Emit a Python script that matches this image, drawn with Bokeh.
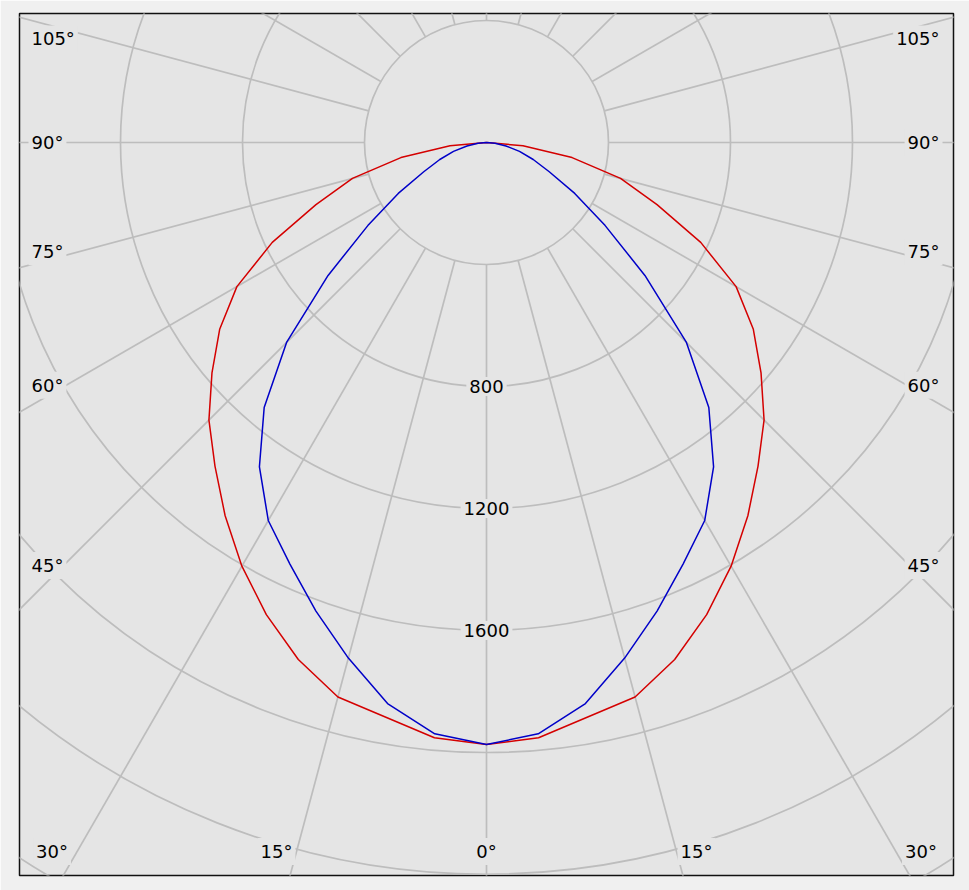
import numpy as np
from bokeh.plotting import figure
from bokeh.models import Range1d, Label, BoxAnnotation
from bokeh.embed import file_html
from bokeh.resources import INLINE

# ---------------- data ----------------
# luminous intensity (cd) against angle from nadir (deg)
angles_c0 = [0, 5, 15, 20, 25, 30, 35, 40, 45, 50, 55, 60, 65, 70, 75, 80, 85, 90]
intensity_c0 = [1974, 1959, 1882, 1804, 1708, 1604, 1494, 1385, 1287, 1175,
                1068, 945, 775, 595, 455, 285, 120, 0]
angles_c90 = [0, 5, 10, 15, 20, 25, 30, 35, 40, 45, 50, 55, 60, 65, 70, 75, 80, 85, 90]
intensity_c90 = [1974, 1946, 1868, 1750, 1635, 1525, 1431, 1298, 1134, 927,
                 678, 475, 334, 227, 163, 112, 65, 28, 0]

ring_values = [400, 800, 1200, 1600, 2000, 2400, 2800]
ring_label_values = [800, 1200, 1600]
spoke_angles = list(range(0, 360, 15))
side_label_angles = [105, 90, 75, 60, 45]
bottom_label_angles = [30, 15, 0]

# ---------------- layout constants ----------------
S = 122.0 / 400.0             # pixels per candela
FRAME_W, FRAME_H = 934, 862
CX, CY = 467, 129             # centre of the diagram inside the frame (px)
BG = "#e5e5e5"
GRID = "#bdbdbd"
FONT = "DejaVu Sans"
FSIZE = "18px"

p = figure(width=969, height=890, output_backend="svg", toolbar_location=None,
           x_axis_type=None, y_axis_type=None,
           x_range=Range1d(-CX / S, (FRAME_W - CX) / S),
           y_range=Range1d(-(FRAME_H - CY) / S, CY / S),
           min_border_left=19, min_border_right=16, min_border_top=13, min_border_bottom=15)
p.title.visible = False
p.grid.visible = False
p.background_fill_color = BG
p.border_fill_color = "#f0f0f0"
p.outline_line_color = "#111111"
p.outline_line_width = 1.5

# light panel border around the chart
p.add_layout(BoxAnnotation(left=12, right=956, top=5, bottom=885,
                           left_units="canvas", right_units="canvas",
                           top_units="canvas", bottom_units="canvas",
                           fill_color=None, fill_alpha=0, line_color="#d2d2d2",
                           line_width=1, level="underlay"))


def polar(r, deg):
    t = np.radians(np.asarray(deg, dtype=float))
    r = np.asarray(r, dtype=float)
    return r * np.sin(t), -r * np.cos(t)


# spokes from the 400 ring outwards
xs, ys = [], []
for a in spoke_angles:
    x0, y0 = polar(ring_values[0], a)
    x1, y1 = polar(6000, a)
    xs.append([float(x0), float(x1)])
    ys.append([float(y0), float(y1)])
p.multi_line(xs, ys, line_color=GRID, line_width=1.7)

# rings
p.circle(x=[0] * len(ring_values), y=[0] * len(ring_values), radius=ring_values,
         fill_color=None, line_color=GRID, line_width=1.7)


def curve(angles, vals):
    a = np.asarray(angles, dtype=float)
    v = np.asarray(vals, dtype=float)
    aa = np.concatenate([-a[::-1], a[1:]])
    vv = np.concatenate([v[::-1], v[1:]])
    return polar(vv, aa)


x0, y0 = curve(angles_c0, intensity_c0)
p.line(x0, y0, line_color="#d40000", line_width=1.5)
x90, y90 = curve(angles_c90, intensity_c90)
p.line(x90, y90, line_color="#0000c8", line_width=1.5)


def add_label(x, y, text, align):
    p.add_layout(Label(x=x, y=y, text=text, text_font=FONT, text_font_size=FSIZE,
                       text_color="black", text_align=align, text_baseline="middle",
                       background_fill_color=BG, padding=3))


# intensity labels on the 0 deg axis
for v in ring_label_values:
    add_label(0, -v, str(v), "center")

# angle labels along the frame edges
side_dx = 438 / S
for a in side_label_angles:
    nud = a + (1.0 if a < 90 else (-1.7 if a > 90 else 0.0))
    t = np.radians(nud)
    y = -side_dx / np.tan(t)
    add_label(-458 / S, float(y), f"{a}°", "left")
    add_label(456 / S, float(y), f"{a}°", "right")

bottom_dy = 709 / S
for a in bottom_label_angles:
    nud = a + (1.5 if a > 0 else 0.0)
    x = bottom_dy * np.tan(np.radians(nud))
    add_label(-float(x), -bottom_dy, f"{a}°", "center")
    if a > 0:
        add_label(float(x), -bottom_dy, f"{a}°", "center")

html = file_html(p, INLINE)
html = html.replace("<body>", '<body style="background-color:#f0f0f0;">', 1)
open("out.html", "w").write(html)
